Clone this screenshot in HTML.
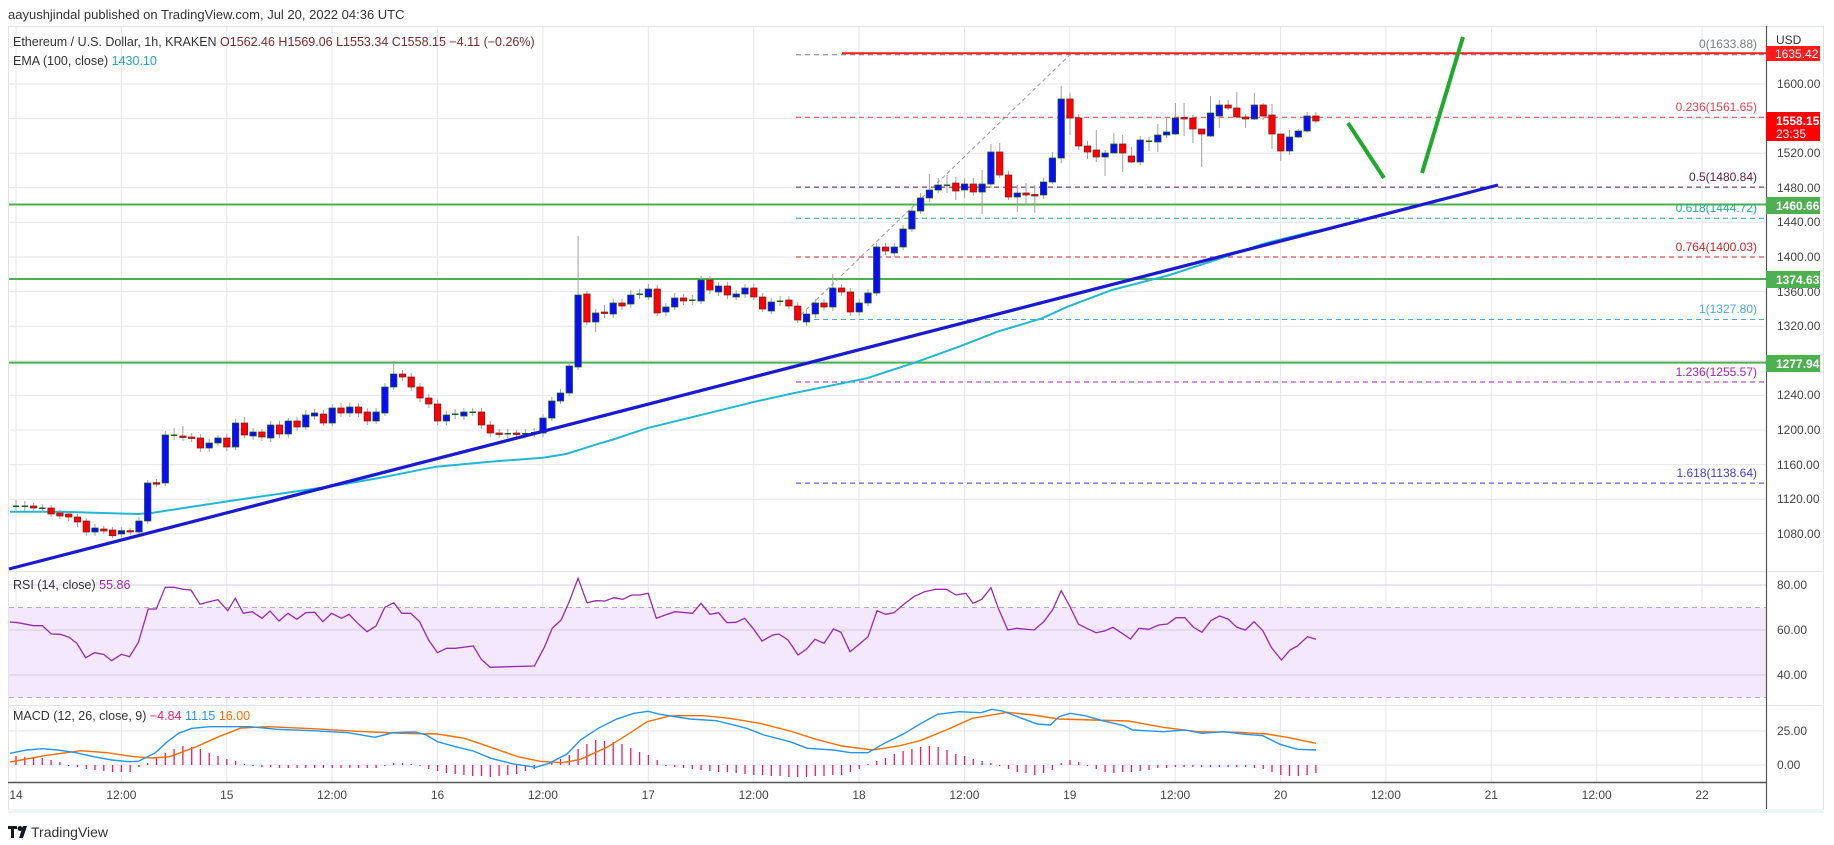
<!DOCTYPE html>
<html><head><meta charset="utf-8">
<style>
html,body{margin:0;padding:0;background:#fff;}
svg{display:block;font-family:"Liberation Sans","DejaVu Sans",sans-serif;}
</style></head>
<body>
<svg width="1834" height="845" viewBox="0 0 1834 845" xmlns="http://www.w3.org/2000/svg">
<rect width="1834" height="845" fill="#fff"/>
<text x="8" y="19" font-size="13" fill="#333">aayushjindal published on TradingView.com, Jul 20, 2022 04:36 UTC</text>
<rect x="8.5" y="26.5" width="1815" height="783" fill="#fff" stroke="#e0e3eb"/>
<rect x="8" y="809" width="1816" height="4" fill="#f0f3fa"/>
<g stroke="#e6e6ea" stroke-width="1">
<path d="M16 27V782M121.4 27V782M226.8 27V782M332.1 27V782M437.5 27V782M542.9 27V782M648.3 27V782M753.7 27V782M859 27V782M964.4 27V782M1069.8 27V782M1175.2 27V782M1280.6 27V782M1385.9 27V782M1491.3 27V782M1596.7 27V782M1702 27V782"/>
<path d="M9 84H1766M9 118.6H1766M9 153.2H1766M9 187.8H1766M9 222.4H1766M9 257H1766M9 291.6H1766M9 326.2H1766M9 360.8H1766M9 395.4H1766M9 430H1766M9 464.6H1766M9 499.2H1766M9 533.8H1766M9 731H1766M9 765H1766"/>
</g>
<rect x="9" y="607.5" width="1757" height="90" fill="#f3e8fd"/>
<path d="M9 585H1766M9 630H1766M9 675H1766" stroke="#d5cbe0"/>
<line x1="9" y1="607.5" x2="1766" y2="607.5" stroke="#b9a9c9" stroke-dasharray="5,4"/>
<line x1="9" y1="697.5" x2="1766" y2="697.5" stroke="#b9a9c9" stroke-dasharray="5,4"/>

<g stroke-width="2">
<line x1="9" y1="204.5" x2="1766" y2="204.5" stroke="#4caf50"/>
<line x1="9" y1="279" x2="1766" y2="279" stroke="#4caf50"/>
<line x1="9" y1="362.6" x2="1766" y2="362.6" stroke="#4caf50"/>
<line x1="842" y1="53.3" x2="1766" y2="53.3" stroke="#ff1a1a"/>
</g>
<g stroke-dasharray="5,4" stroke-width="1">
<line x1="796" y1="54.7" x2="1766" y2="54.7" stroke="#787b86"/>
<line x1="796" y1="117.2" x2="1766" y2="117.2" stroke="#e0444f"/>
<line x1="796" y1="187.1" x2="1766" y2="187.1" stroke="#5b2040"/>
<line x1="796" y1="218.3" x2="1766" y2="218.3" stroke="#22ab94"/>
<line x1="796" y1="257" x2="1766" y2="257" stroke="#c62828"/>
<line x1="796" y1="319.5" x2="1766" y2="319.5" stroke="#4aa8e0"/>
<line x1="796" y1="382" x2="1766" y2="382" stroke="#9c27b0"/>
<line x1="796" y1="483.1" x2="1766" y2="483.1" stroke="#3f3fd0"/>
</g>
<line x1="796" y1="319.5" x2="1070" y2="54.7" stroke="#999" stroke-dasharray="4,3"/>

<!-- EMA -->
<polyline fill="none" stroke="#21b8d4" stroke-width="2" points="10,511.7 61,511.7 138,514 153,512.7 229.6,501 333,486 379,478 436,466.7 490,461.7 543,457.7 566,454 600,443.3 611.6,440 646.7,428.3 755,401.7 793,393.3 866.7,378.3 914.5,362.7 959,346.7 997.4,331.7 1042,318.3 1067.6,306.7 1112,290 1169.6,275 1220.7,258.3 1265,243.3 1316,230.7"/>

<!-- wicks -->
<path fill="none" stroke="#a0a0a0" stroke-width="1" d="M16 500V512M24.8 501V511M33.6 503V511M42.3 504V512M51.1 505V517M59.9 510V519M68.7 511V521M77.5 514V527M86.3 518V536M95 524V536M103.8 526V534M112.6 527V538M121.4 527V537M130.2 528V535M139 517V535M147.7 480V524M156.5 479V487M165.3 431V486M174.1 428V440M182.9 426V441M191.7 433V442M200.4 434V452M209.2 439V452M218 435V446M226.8 434V451M235.6 419V450M244.4 417V438M253.1 428V440M261.9 429V441M270.7 421V442M279.5 421V438M288.3 418V438M297.1 417V431M305.8 410V430M314.6 409V420M323.4 410V426M332.2 404V426M341 403V417M349.8 403V417M358.5 403V417M367.3 408V425M376.1 408V424M384.9 383V416M393.7 361V390M402.5 370V381M411.2 373V391M420 383V402M428.8 394V408M437.6 400V425M446.4 411V425M455.2 409V419M463.9 408V420M472.7 408V416M481.5 408V429M490.3 421V437M499.1 429V438M507.8 429V438M516.6 430V437M525.4 429V438M534.2 428V437M543 414V437M551.8 397V421M560.5 389V404M569.3 362V396M578.1 236V370M586.9 291V325M595.7 309V332M604.5 305V318M613.2 299V318M622 299V310M630.8 290V308M639.6 289V299M648.4 284V300M657.2 285V316M665.9 303V316M674.7 293V310M683.5 294V305M692.3 295V305M701.1 276V304M709.9 276V294M718.6 282V296M727.4 282V299M736.2 290V300M745 284V298M753.8 284V300M762.6 293V312M771.3 298V314M780.1 296V306M788.9 296V309M797.7 302V323M806.5 310V326M815.3 299V318M824 299V311M832.8 274V311M841.6 284V296M850.4 288V316M859.2 299V316M868 289V306M876.7 243V296M885.5 243V255M894.3 243V257M903.1 225V250M911.9 207V232M920.6 193V214M929.4 174V202M938.2 178V193M947 175V193M955.8 177V200M964.6 178V198M973.3 178V196M982.1 170V214M990.9 144V188M999.7 143V178M1008.5 171V200M1017.3 185V212M1026 183V205M1034.8 185V213M1043.6 178V199M1052.4 152V184M1061.2 86V163M1070 93V135M1078.7 114V150M1087.5 141V159M1096.3 130V162M1105.1 150V176M1113.9 133V153M1122.7 135V172M1131.4 147V163M1140.2 136V165M1149 137V151M1157.8 124V152M1166.6 118V138M1175.4 103V135M1184.1 103V136M1192.9 115V143M1201.7 129V167M1210.5 96V137M1219.3 100V128M1228.1 100V110M1236.8 92V118M1245.6 114V128M1254.4 93V120M1263.2 103V120M1272 104V149M1280.8 134V161M1289.5 130V155M1298.3 129V138M1307.1 112V133M1315.9 112V123"/>

<!-- blue bodies -->
<path fill="#0a0aff" stroke="#1b5e20" stroke-width="0.8" d="M91.8 528h6.4V532h-6.4zM118.2 530.7h6.4V534h-6.4zM135.8 521h6.4V532h-6.4zM144.5 483h6.4V521h-6.4zM162.1 435h6.4V483h-6.4zM206 443h6.4V448h-6.4zM214.8 438h6.4V443h-6.4zM232.4 423h6.4V447h-6.4zM249.9 432h6.4V436h-6.4zM267.5 425h6.4V438h-6.4zM285.1 421h6.4V434h-6.4zM302.6 415h6.4V427h-6.4zM311.4 413h6.4V416h-6.4zM329 408h6.4V423h-6.4zM346.6 407h6.4V413h-6.4zM372.9 412h6.4V421h-6.4zM381.7 387h6.4V413h-6.4zM390.5 374h6.4V387h-6.4zM443.2 415h6.4V421h-6.4zM460.7 412h6.4V416h-6.4zM539.8 418h6.4V433h-6.4zM548.6 401h6.4V418h-6.4zM557.3 393h6.4V401h-6.4zM566.1 366h6.4V393h-6.4zM574.9 295h6.4V367h-6.4zM592.5 313h6.4V322h-6.4zM610 303h6.4V314h-6.4zM627.6 295h6.4V304h-6.4zM645.2 289h6.4V297h-6.4zM662.7 307h6.4V312h-6.4zM671.5 298h6.4V307h-6.4zM697.9 280h6.4V301h-6.4zM715.4 286h6.4V292h-6.4zM733 294h6.4V297h-6.4zM741.8 288h6.4V294h-6.4zM768.1 302h6.4V311h-6.4zM803.3 314h6.4V322h-6.4zM812.1 303h6.4V314h-6.4zM829.6 288h6.4V307h-6.4zM856 303h6.4V312h-6.4zM864.8 293h6.4V303h-6.4zM873.5 247h6.4V293h-6.4zM891.1 247h6.4V253h-6.4zM899.9 229h6.4V247h-6.4zM908.7 211h6.4V229h-6.4zM917.4 198h6.4V211h-6.4zM926.2 190h6.4V198h-6.4zM935 185h6.4V190h-6.4zM961.4 184h6.4V190h-6.4zM978.9 184h6.4V192h-6.4zM987.7 152h6.4V184h-6.4zM1014.1 193h6.4V197h-6.4zM1040.4 182h6.4V195h-6.4zM1049.2 158h6.4V182h-6.4zM1058 99h6.4V158h-6.4zM1101.9 153h6.4V157h-6.4zM1110.7 144h6.4V153h-6.4zM1137 140h6.4V162h-6.4zM1154.6 135h6.4V142h-6.4zM1163.4 132h6.4V135h-6.4zM1172.2 118h6.4V134h-6.4zM1207.3 113h6.4V136h-6.4zM1216.1 105h6.4V116h-6.4zM1251.2 105h6.4V119h-6.4zM1286.3 137h6.4V151h-6.4zM1295.1 131h6.4V137h-6.4zM1303.9 116h6.4V131h-6.4z"/>
<!-- green dojis -->
<path fill="#1b5e20" d="M12.8 505.5h6.4V507h-6.4zM21.6 505.5h6.4V507h-6.4zM39.1 507.5h6.4V509h-6.4zM170.9 434.5h6.4V436h-6.4zM452 413.5h6.4V415h-6.4zM469.5 411.5h6.4V413h-6.4zM504.6 433h6.4V434.5h-6.4zM522.2 433h6.4V434.5h-6.4zM531 432h6.4V433.5h-6.4zM636.4 293.5h6.4V295h-6.4zM689.1 299.5h6.4V301h-6.4zM776.9 300.5h6.4V302h-6.4zM943.8 184.5h6.4V186h-6.4zM1145.8 140.5h6.4V142h-6.4z"/>
<!-- red bodies -->
<path fill="#ff0000" stroke="#8b1a1a" stroke-width="0.8" d="M30.4 506h6.4V508h-6.4zM47.9 508h6.4V514h-6.4zM56.7 513h6.4V516h-6.4zM65.5 514h6.4V517h-6.4zM74.3 517h6.4V522h-6.4zM83.1 521h6.4V532h-6.4zM100.6 529h6.4V531h-6.4zM109.4 530h6.4V535.7h-6.4zM127 530.7h6.4V532h-6.4zM153.3 482.7h6.4V484.2h-6.4zM179.7 436h6.4V437.5h-6.4zM188.5 437h6.4V438.5h-6.4zM197.2 438h6.4V448h-6.4zM223.6 438h6.4V447h-6.4zM241.2 423h6.4V435h-6.4zM258.7 432h6.4V437h-6.4zM276.3 425h6.4V434h-6.4zM293.9 421h6.4V427h-6.4zM320.2 414h6.4V423h-6.4zM337.8 408h6.4V413h-6.4zM355.3 407h6.4V413h-6.4zM364.1 412h6.4V421h-6.4zM399.3 374h6.4V377h-6.4zM408 377h6.4V387h-6.4zM416.8 387h6.4V398h-6.4zM425.6 398h6.4V404h-6.4zM434.4 404h6.4V421h-6.4zM478.3 412h6.4V425h-6.4zM487.1 425h6.4V433h-6.4zM495.9 433h6.4V434.5h-6.4zM513.4 433h6.4V434.5h-6.4zM583.7 294h6.4V322h-6.4zM601.3 312h6.4V313.5h-6.4zM618.8 303h6.4V306h-6.4zM654 289h6.4V313h-6.4zM680.3 298h6.4V301h-6.4zM706.7 280h6.4V290h-6.4zM724.2 286h6.4V295h-6.4zM750.6 288h6.4V297h-6.4zM759.4 297h6.4V309h-6.4zM785.7 300h6.4V306h-6.4zM794.5 306h6.4V320h-6.4zM820.8 303h6.4V307h-6.4zM838.4 288h6.4V292h-6.4zM847.2 292h6.4V312h-6.4zM882.3 247h6.4V251h-6.4zM952.6 183h6.4V191h-6.4zM970.1 184h6.4V192h-6.4zM996.5 152h6.4V175h-6.4zM1005.3 175h6.4V197h-6.4zM1022.8 193h6.4V195h-6.4zM1031.6 194.5h6.4V196h-6.4zM1066.8 99h6.4V118h-6.4zM1075.5 118h6.4V146h-6.4zM1084.3 146h6.4V152h-6.4zM1093.1 150h6.4V157h-6.4zM1119.5 144h6.4V153h-6.4zM1128.2 156h6.4V162h-6.4zM1180.9 117.5h6.4V119h-6.4zM1189.7 118h6.4V129h-6.4zM1198.5 129h6.4V134h-6.4zM1224.9 105h6.4V108h-6.4zM1233.6 108h6.4V117h-6.4zM1242.4 117h6.4V119h-6.4zM1260 105h6.4V116h-6.4zM1268.8 115h6.4V134h-6.4zM1277.6 134h6.4V151h-6.4zM1312.7 116h6.4V121h-6.4z"/>

<!-- trend line & drawings -->
<line x1="9" y1="569" x2="1498" y2="185" stroke="#1a1ad2" stroke-width="3.2"/>
<line x1="1348" y1="123" x2="1384" y2="178" stroke="#1faa2e" stroke-width="4"/>
<line x1="1422" y1="173" x2="1463" y2="37" stroke="#1faa2e" stroke-width="4"/>

<!-- RSI -->
<polyline fill="none" stroke="#9c27b0" stroke-width="1.3" points="10,622 18,622.7 33.5,625.7 42.4,625.7 51.3,634 60.3,634.3 69.2,637.3 76.8,643.3 85.7,657.7 94.6,652.7 103.6,654.3 111.6,660.7 121.4,654.3 129.5,656.7 138.4,642.3 148.2,609 156.3,609 165.2,587.3 174.1,587.3 183,589.3 191,590 200,604.3 209,601.7 217.9,599.7 227.7,610.7 235.3,598.3 243.3,613.3 252.2,611.7 262,618.3 270,611 279,621 288,613.3 296.9,619.3 305.8,612.7 314.7,612.3 322.8,621.7 331.7,613.3 341.5,618.3 349.1,614.3 357.1,622.7 367,631.7 376,626 384.8,607.3 393.8,602.7 401.8,613.3 410.7,613.3 419.6,621.7 428.6,640 437.5,652.7 446.4,648.3 455.4,648.3 473.2,646 481.3,659.3 490.2,667.3 509,666.7 534.4,666 544.6,646.7 552.2,628.3 561.2,620 569.2,601.7 578.1,578.3 587,602.7 596,600.7 605,601 613.8,597.7 622.8,599.3 631.7,595 639.3,595 648.2,593.3 656.3,618.3 665.2,615 675,611.7 692.5,613.3 701,603.3 710,614.3 718.5,612.7 727,622.7 736,622.3 744.6,618.3 753,628.3 762,641 772.8,635 779,634 788,640 798,655 806.6,649 815,639.3 824,643.3 833.5,629 841,632.3 850,651.7 859.5,644 868,636.7 877,610.7 885.5,614.3 894,612.7 903,605 913.7,596.7 924.6,591.7 935.4,589.3 946.2,589.3 956,595 965.8,593.3 973,603.3 981.8,599.3 991,587.7 998.3,608.3 1007.8,630 1016.5,628.3 1034,630 1043.8,621.7 1052.5,610 1061.2,590.7 1070,606.7 1078.5,624.3 1096,632.7 1104.5,631 1113,627.3 1130.5,639 1139,628.3 1148.8,629.3 1158.8,625 1167.4,624 1176,617.7 1184.8,617.7 1193.5,627.3 1202,632.3 1210.8,620.7 1219.5,616 1228,619 1236.8,627.3 1245.5,630 1254,621.7 1262.8,630.7 1271.5,647.7 1281.5,660 1290,650 1297.5,646 1307.5,636.7 1316,639.3"/>

<!-- MACD histogram -->
<path stroke="#f0196b" stroke-width="1.3" fill="none" d="M16 765V756M24.8 765V757M33.6 765V758M42.3 765V758M51.1 765V760M59.9 765V762M68.7 765V766M77.5 765V767M86.3 765V769M95 765V770M103.8 765V771M112.6 765V772M121.4 765V772M130.2 765V772M139 765V767M147.7 765V763M156.5 765V758M165.3 765V753M174.1 765V749M182.9 765V746M191.7 765V747M200.4 765V749M209.2 765V753M218 765V756M226.8 765V759M235.6 765V761M244.4 765V764M253.1 765V766M261.9 765V767M270.7 765V767M279.5 765V768M288.3 765V768M297.1 765V768M305.8 765V768M314.6 765V768M323.4 765V768M332.2 765V768M341 765V768M349.8 765V768M358.5 765V768M367.3 765V768M376.1 765V768M384.9 765V766M393.7 765V763M402.5 765V763M411.2 765V764M420 765V766M428.8 765V769M437.6 765V771M446.4 765V773M455.2 765V774M463.9 765V775M472.7 765V776M481.5 765V776M490.3 765V777M499.1 765V776M507.8 765V775M516.6 765V774M525.4 765V771M534.2 765V769M543 765V766M551.8 765V762M560.5 765V759M569.3 765V755M578.1 765V749M586.9 765V744M595.7 765V740M604.5 765V741M613.2 765V742M622 765V744M630.8 765V748M639.6 765V752M648.4 765V755M657.2 765V760M665.9 765V766M674.7 765V767M683.5 765V768M692.3 765V769M701.1 765V770M709.9 765V771M718.6 765V772M727.4 765V772M736.2 765V773M745 765V774M753.8 765V775M762.6 765V775M771.3 765V776M780.1 765V776M788.9 765V777M797.7 765V777M806.5 765V777M815.3 765V776M824 765V776M832.8 765V775M841.6 765V775M850.4 765V772M859.2 765V769M868 765V764M876.7 765V761M885.5 765V758M894.3 765V754M903.1 765V751M911.9 765V749M920.6 765V747M929.4 765V746M938.2 765V747M947 765V750M955.8 765V754M964.6 765V756M973.3 765V759M982.1 765V761M990.9 765V763M999.7 765V766M1008.5 765V769M1017.3 765V772M1026 765V773M1034.8 765V775M1043.6 765V773M1052.4 765V770M1061.2 765V763M1070 765V760M1078.7 765V762M1087.5 765V766M1096.3 765V769M1105.1 765V772M1113.9 765V773M1122.7 765V772M1131.4 765V772M1140.2 765V771M1149 765V770M1157.8 765V768M1166.6 765V768M1175.4 765V767M1184.1 765V767M1192.9 765V767M1201.7 765V767M1210.5 765V767M1219.3 765V767M1228.1 765V767M1236.8 765V767M1245.6 765V767M1254.4 765V768M1263.2 765V769M1272 765V772M1280.8 765V775M1289.5 765V776M1298.3 765V776M1307.1 765V775M1315.9 765V773"/>
<polyline fill="none" stroke="#ff6d00" stroke-width="1.4" points="10,762 44.6,755.7 80.4,750.7 107,752.7 134,756.7 151.8,758 169.6,756.7 196.4,746.7 218.8,736.7 241,728 267.9,726.7 312.5,728.7 357,731.3 401.8,733.3 437.5,734 464.3,738.3 491,747.3 517.9,756.7 540.2,761.3 562.5,762.7 580.4,759.3 607.1,747.3 629.5,733.3 647.3,721.7 669.6,716 677.3,715.7 703.4,715.7 729.4,718.3 759.8,723.3 790,731 816,739.3 842,746 872.5,750 898.5,746 920,740.7 946.2,730 972.3,718.3 1007,712.3 1033,715 1059,719 1093.7,720 1128.4,721 1163,727.3 1197.8,731.7 1236.8,732.3 1267,734 1289,737.7 1316,743.3"/>
<polyline fill="none" stroke="#2196f3" stroke-width="1.4" points="10,753.3 26.8,750 42.4,748.7 58,750 75.9,752.7 93.8,756.7 111.6,760 129.5,761.7 138.4,761.3 155.4,752.7 167.4,741.7 178.6,733.3 192,728.3 209.8,726.7 250,726.7 276.8,729.3 312.5,730.7 348.2,732.7 375,737.3 392.9,732.7 415.2,732 426.3,735 437.5,741.7 455.4,746.7 473.2,751 491,758.3 513.4,764 535.7,767.3 549.1,763.3 567,754 580.4,740 598.2,728.3 616,719.3 634,713.3 648.2,711.3 660,714.3 690,719 716.4,720.7 746.7,728.3 764,735 790,741.7 807.5,748.3 833.5,750 850.8,752.7 868,752.7 885.5,742.7 903,734.3 920,724 937.6,714.3 959,711.7 981,712.7 991.8,709.3 1002.6,711 1020,717.7 1037.3,724 1050.3,725 1059,716.7 1070,713.3 1085,715.7 1102.4,720.7 1124,725.7 1132.7,730 1163,731.7 1184.8,730 1202,733.3 1223.8,731.7 1245.5,734.3 1262.8,735.7 1280,744.3 1297.5,749.3 1316,750"/>

<line x1="8" y1="571.5" x2="1824" y2="571.5" stroke="#e0e3eb"/>
<line x1="8" y1="705.5" x2="1824" y2="705.5" stroke="#e0e3eb"/>
<line x1="8" y1="782.5" x2="1766" y2="782.5" stroke="#555" stroke-width="1.5"/>
<line x1="1766.5" y1="26" x2="1766.5" y2="809" stroke="#555" stroke-width="1.2"/>

<text x="13" y="46" font-size="12.5" fill="#333">Ethereum / U.S. Dollar, 1h, KRAKEN <tspan fill="#7a2a2a">O1562.46  H1569.06  L1553.34  C1558.15  −4.11 (−0.26%)</tspan></text>
<text x="13" y="65" font-size="12.5" fill="#333">EMA (100, close) <tspan fill="#1fa8c9">1430.10</tspan></text>
<text x="13" y="589" font-size="12.5" fill="#333">RSI (14, close) <tspan fill="#9c27b0">55.86</tspan></text>
<text x="13" y="720" font-size="12.5" fill="#333">MACD (12, 26, close, 9) <tspan fill="#ff1f6b">−4.84</tspan> <tspan fill="#2196f3">11.15</tspan> <tspan fill="#ff6d00">16.00</tspan></text>

<g font-size="12" fill="#444">
<text x="1777" y="88">1600.00</text>
<text x="1777" y="157">1520.00</text>
<text x="1777" y="192">1480.00</text>
<text x="1777" y="226">1440.00</text>
<text x="1777" y="261">1400.00</text>
<text x="1777" y="296">1360.00</text>
<text x="1777" y="330">1320.00</text>
<text x="1777" y="399">1240.00</text>
<text x="1777" y="434">1200.00</text>
<text x="1777" y="469">1160.00</text>
<text x="1777" y="503">1120.00</text>
<text x="1777" y="538">1080.00</text>
<text x="1777" y="589">80.00</text>
<text x="1777" y="634">60.00</text>
<text x="1777" y="679">40.00</text>
<text x="1777" y="735">25.00</text>
<text x="1777" y="769">0.00</text>
</g>
<g font-size="12" fill="#444" text-anchor="middle">
<text x="16" y="799">14</text><text x="121.4" y="799">12:00</text><text x="226.8" y="799">15</text><text x="332.1" y="799">12:00</text><text x="437.5" y="799">16</text><text x="542.9" y="799">12:00</text><text x="648.3" y="799">17</text><text x="753.7" y="799">12:00</text><text x="859" y="799">18</text><text x="964.4" y="799">12:00</text><text x="1069.8" y="799">19</text><text x="1175.2" y="799">12:00</text><text x="1280.6" y="799">20</text><text x="1385.9" y="799">12:00</text><text x="1491.3" y="799">21</text><text x="1596.7" y="799">12:00</text><text x="1702" y="799">22</text>
</g>

<text x="1776" y="44" font-size="12" fill="#333">USD</text>
<rect x="1766" y="46" width="54" height="15" fill="#ff1a1a"/>
<text x="1775" y="58" font-size="12" fill="#fff">1635.42</text>
<rect x="1766" y="112" width="54" height="29" fill="#ff0000"/>
<text x="1776" y="125" font-size="12" fill="#fff" font-weight="bold">1558.15</text>
<text x="1776" y="138" font-size="12" fill="#fff">23:35</text>
<rect x="1766" y="197" width="54" height="17" fill="#4caf50"/>
<text x="1776" y="210" font-size="12" fill="#fff" font-weight="bold">1460.66</text>
<rect x="1766" y="271" width="54" height="17" fill="#4caf50"/>
<text x="1776" y="284" font-size="12" fill="#fff" font-weight="bold">1374.63</text>
<rect x="1766" y="355" width="54" height="17" fill="#4caf50"/>
<text x="1776" y="368" font-size="12" fill="#fff" font-weight="bold">1277.94</text>

<g font-size="12" text-anchor="end">
<text x="1757" y="48" fill="#787b86">0(1633.88)</text>
<text x="1757" y="111" fill="#e0444f">0.236(1561.65)</text>
<text x="1757" y="181" fill="#5b2040">0.5(1480.84)</text>
<text x="1757" y="212" fill="#22ab94">0.618(1444.72)</text>
<text x="1757" y="251" fill="#c62828">0.764(1400.03)</text>
<text x="1757" y="313" fill="#4aa8e0">1(1327.80)</text>
<text x="1757" y="376" fill="#9c27b0">1.236(1255.57)</text>
<text x="1757" y="477" fill="#3f3fd0">1.618(1138.64)</text>
</g>

<g transform="translate(8,824)">
<path d="M0 2h9v3h-3v9h-3v-9h-3z" fill="#131722"/>
<circle cx="12" cy="4.5" r="2.5" fill="#131722"/>
<path d="M15 2h4l-4 12h-4z" fill="#131722"/>
</g>
<text x="31" y="837" font-size="14" fill="#333">TradingView</text>
</svg>
</body></html>
